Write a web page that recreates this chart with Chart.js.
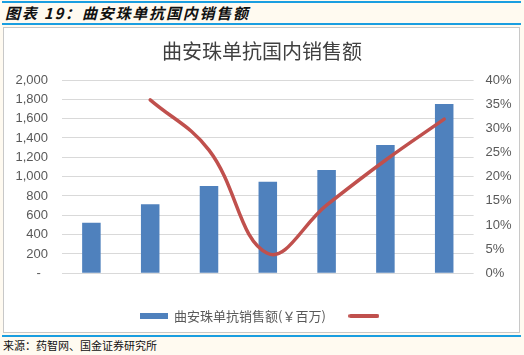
<!DOCTYPE html>
<html>
<head>
<meta charset="utf-8">
<script src="https://cdn.jsdelivr.net/npm/chart.js@4/dist/chart.umd.min.js"></script>
<style>
  html, body { margin: 0; padding: 0; }
  body { width: 524px; height: 355px; background: #fffaf0; position: relative; overflow: hidden; }
  .bl { position: absolute; left: 2px; width: 519px; background: #1a9ee0; }
  #hdr { position: absolute; left: 5px; top: 4px; font: italic bold 15px "Noto Sans CJK SC", sans-serif; color: #111; line-height: 18px; letter-spacing: 1.8px; }
  #box { position: absolute; left: 3px; top: 27px; width: 515px; height: 304px; background: #fff; border: 1px solid #c8c8c8; }
  #src { position: absolute; left: 3px; top: 338px; font: 11px "Noto Sans CJK SC", sans-serif; color: #111; line-height: 15px; }
  #c { position: absolute; left: 0; top: 0; }
</style>
</head>
<body>
<div class="bl" style="top:1px;height:2px"></div>
<div id="hdr">图表 19：曲安珠单抗国内销售额</div>
<div class="bl" style="top:23px;height:2px"></div>
<div id="box"></div>
<div class="bl" style="top:335px;height:2px"></div>
<div id="src">来源：药智网、国金证券研究所</div>
<canvas id="c" width="524" height="355"></canvas>
<script>
const categories = ['2011A', '2012A', '2013A', '2014A', '2015A', '2016A', '2017A'];
const salesValues = [524, 714, 903, 948, 1069, 1327, 1751];
const growthValues = [null, 35.9, 25.5, 4.1, 14.1, 23.4, 31.9];
const salesLabel = '曲安珠单抗销售额(￥百万)';
const growthLabel = '';
const chartTitle = '曲安珠单抗国内销售额';

function marker(w, h, color, round) {
  const c = document.createElement('canvas');
  c.width = w; c.height = h;
  const x = c.getContext('2d');
  x.fillStyle = color;
  x.beginPath();
  if (round) x.roundRect(0, 0, w, h, h / 2); else x.rect(0, 0, w, h);
  x.fill();
  return c;
}

const tickFont = { family: '"Liberation Sans", Arial, sans-serif', size: 13 };
const tickColor = '#595959';

new Chart(document.getElementById('c'), {
  data: {
    labels: categories,
    datasets: [
      {
        type: 'line',
        label: growthLabel,
        data: growthValues,
        yAxisID: 'y1',
        borderColor: '#c0504d',
        backgroundColor: '#c0504d',
        borderWidth: 3.5,
        pointRadius: 0,
        pointHoverRadius: 0,
        tension: 0.4,
        borderCapStyle: 'round',
        pointStyle: marker(31, 4, '#c0504d', true),
        order: 0
      },
      {
        type: 'bar',
        label: salesLabel,
        data: salesValues,
        yAxisID: 'y',
        backgroundColor: '#4f81bd',
        borderWidth: 0,
        categoryPercentage: 1,
        barPercentage: 0.315,
        pointStyle: marker(28, 6, '#4f81bd', false),
        order: 1
      }
    ]
  },
  options: {
    responsive: false,
    animation: false,
    layout: { padding: { left: 0, right: 0, top: 0, bottom: 22.5 } },
    plugins: {
      tooltip: { enabled: false },
      title: {
        display: true,
        text: chartTitle,
        color: '#404040',
        font: { family: '"Noto Sans CJK SC", sans-serif', size: 20, weight: 'normal', lineHeight: 1.2 },
        padding: { top: 39, bottom: 17 }
      },
      legend: {
        position: 'bottom',
        reverse: true,
        labels: {
          usePointStyle: true,
          pointStyleWidth: 28,
          padding: 24,
          color: '#595959',
          font: { family: '"Noto Sans CJK SC", sans-serif', size: 13 }
        }
      }
    },
    scales: {
      x: {
        grid: { display: false },
        border: { display: false },
        ticks: { color: tickColor, font: tickFont, padding: 10, maxRotation: 0 },
        afterFit: s => { s.height = 12.2; }
      },
      y: {
        position: 'left',
        min: 0, max: 2000,
        grid: { color: '#d9d9d9', lineWidth: 1, drawTicks: false },
        border: { display: false },
        ticks: {
          stepSize: 200, color: tickColor, font: tickFont, padding: 14,
          callback: v => v === 0 ? '-  ' : v.toLocaleString('en-US')
        },
        afterFit: s => { s.width = 62; }
      },
      y1: {
        position: 'right',
        min: 0, max: 40,
        grid: { display: false, drawTicks: false },
        border: { display: false },
        ticks: { stepSize: 5, color: tickColor, font: tickFont, padding: 12, callback: v => v + '%' },
        afterFit: s => { s.width = 50.4; }
      }
    }
  }
});
</script>
</body>
</html>
